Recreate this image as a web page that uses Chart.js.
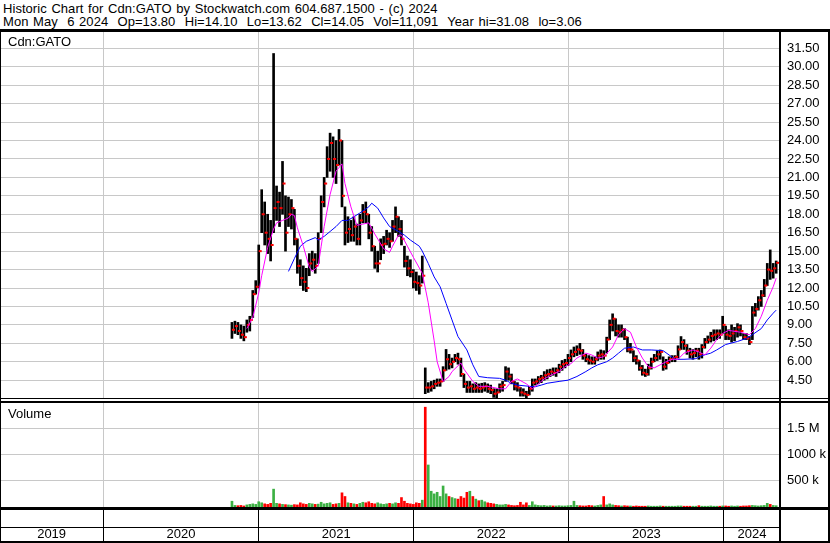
<!DOCTYPE html>
<html>
<head>
<meta charset="utf-8">
<script src="https://cdn.jsdelivr.net/npm/chart.js@4.4.0/dist/chart.umd.min.js"></script>
<style>
  body { margin: 0; background: #fff; }
  #wrap { position: relative; width: 830px; height: 543px; overflow: hidden; background: #fff;
          font-family: "Liberation Sans", Arial, sans-serif; color: #000; }
  .txt { position: absolute; font-size: 13px; line-height: 14px; white-space: pre; }
  .hdr { word-spacing: 1px; letter-spacing: 0.05px; }
  .ln { position: absolute; background: #000; }
  canvas { position: absolute; left: 0; }
</style>
</head>
<body>
<div id="wrap">
  <div class="txt hdr" style="left:3px;top:2px">Historic Chart for Cdn:GATO by Stockwatch.com 604.687.1500 - (c) 2024</div>
  <div class="txt hdr" style="left:3px;top:15px">Mon May  6 2024  Op=13.80  Hi=14.10  Lo=13.62  Cl=14.05  Vol=11,091  Year hi=31.08  lo=3.06</div>
  <canvas id="price" width="830" height="366" style="top:32px"></canvas>
  <canvas id="volume" width="830" height="140" style="top:403px"></canvas>
  <div class="txt" style="left:8px;top:35px">Cdn:GATO</div>
  <div class="txt" style="left:8px;top:407px">Volume</div>
  <div class="ln" style="left:0;top:29px;width:830px;height:3px"></div>
  <div class="ln" style="left:0;top:398px;width:830px;height:1px"></div>
  <div class="ln" style="left:0;top:401px;width:830px;height:2px"></div>
  <div class="ln" style="left:0;top:507px;width:830px;height:3px"></div>
  <div class="ln" style="left:0;top:527px;width:781px;height:1px"></div>
  <div class="ln" style="left:0;top:541px;width:830px;height:2px"></div>
  <div class="ln" style="left:0;top:29px;width:1px;height:514px"></div>
  <div class="ln" style="left:779px;top:32px;width:2px;height:511px"></div>
  <div class="ln" style="left:828px;top:29px;width:2px;height:514px"></div>
</div>
<script>
// weekly bars, first week ending 2020-10-30
const weekStart = Date.UTC(2020, 9, 30);
const DAY = 86400000;

const highs = [
  9.2, 9.3, 9.2, 9.0, 8.9, 9.4, 9.7, 11.8, 12.6, 15.5,
  20.0, 19.0, 18.0, 17.5, 31.08, 20.3, 19.8, 22.3, 19.5, 19.4,
  19.2, 18.4, 16.0, 14.3, 13.8, 13.6, 14.8, 15.0, 14.8, 16.5,
  19.5, 21.0, 23.5, 24.6, 24.3, 24.0, 24.9, 24.0, 18.6, 17.8,
  17.5, 17.8, 17.2, 18.0, 18.8, 19.0, 18.0, 17.0, 15.4, 15.0,
  16.0, 16.2, 16.7, 16.5, 17.5, 18.6, 17.8, 17.5, 15.4, 14.6,
  14.3, 13.5, 13.3, 13.0, 14.6, 5.5, 4.3, 4.4, 4.5, 4.6,
  4.6, 5.6, 7.0, 6.6, 6.3, 6.6, 6.7, 6.3, 5.0, 4.4,
  4.4, 4.2, 4.3, 4.2, 4.25, 4.3, 4.2, 4.1, 3.8, 3.8,
  4.2, 4.4, 5.6, 5.5, 5.0, 4.4, 4.3, 3.9, 3.8, 3.6,
  4.0, 4.6, 4.6, 4.8, 4.9, 5.2, 5.35, 5.4, 5.5, 5.5,
  5.8, 6.1, 6.2, 6.6, 6.96, 7.2, 7.3, 7.5, 7.0, 6.6,
  6.5, 6.4, 6.4, 6.8, 6.96, 6.9, 8.0, 9.4, 9.9, 9.5,
  9.0, 9.0, 8.7, 8.0, 7.5, 6.9, 6.5, 6.1, 5.7, 5.4,
  5.8, 6.3, 6.6, 6.9, 6.96, 6.4, 6.2, 6.4, 6.5, 6.5,
  7.3, 8.05, 7.8, 7.4, 7.1, 7.0, 7.1, 7.1, 7.4, 7.9,
  8.1, 8.4, 8.6, 8.6, 8.6, 9.7, 8.9, 8.6, 9.0, 8.8,
  9.1, 9.0, 8.3, 8.3, 8.05, 10.5, 10.75, 11.3, 11.8, 12.7,
  14.0, 15.1, 14.0, 14.2
];
const lows = [
  7.9, 8.3, 8.2, 7.9, 7.7, 8.4, 8.5, 9.6, 11.5, 12.0,
  16.5, 15.5, 14.8, 14.2, 16.5, 17.5, 17.0, 18.0, 15.0, 17.0,
  16.8, 15.5, 13.2, 12.2, 11.8, 11.7, 13.0, 13.5, 13.2, 14.0,
  16.5, 18.6, 21.0, 21.5, 21.0, 20.5, 22.0, 18.6, 15.5, 15.7,
  15.8, 15.8, 15.5, 15.5, 17.3, 17.3, 16.0, 15.0, 13.6, 13.3,
  14.3, 14.8, 15.5, 15.3, 15.8, 16.5, 16.2, 15.5, 13.7, 13.0,
  12.9, 12.0, 11.8, 11.5, 12.4, 3.4, 3.5, 3.6, 3.8, 4.0,
  4.0, 4.4, 5.3, 5.4, 5.5, 6.0, 5.8, 4.8, 3.9, 3.5,
  3.5, 3.5, 3.5, 3.5, 3.5, 3.6, 3.5, 3.4, 3.1, 3.0,
  3.5, 3.6, 4.4, 4.5, 4.2, 3.7, 3.6, 3.2, 3.2, 3.06,
  3.3, 3.6, 4.1, 4.2, 4.3, 4.5, 4.6, 4.8, 4.9, 4.8,
  5.1, 5.3, 5.5, 5.7, 6.0, 6.4, 6.5, 6.6, 6.2, 6.0,
  5.8, 5.8, 5.8, 6.1, 6.2, 6.2, 6.7, 7.8, 8.5, 8.1,
  8.0, 8.0, 7.8, 6.8, 6.7, 6.0, 5.8, 5.3, 4.9, 4.8,
  4.9, 5.4, 6.0, 6.1, 6.2, 5.3, 5.4, 5.9, 6.0, 6.0,
  6.3, 7.0, 7.0, 6.6, 6.3, 6.2, 6.4, 6.2, 6.3, 7.1,
  7.5, 7.6, 7.7, 7.8, 7.9, 8.3, 7.8, 7.8, 7.6, 7.7,
  8.0, 8.1, 7.8, 7.8, 7.4, 7.8, 9.7, 10.2, 10.5, 11.3,
  12.2, 12.7, 12.8, 13.2
];
const closes = [
  8.6, 8.9, 8.5, 8.2, 8.0, 9.0, 9.4, 11.5, 12.1, 15.0,
  18.0, 16.5, 16.0, 15.5, 18.5, 19.0, 18.5, 20.5, 16.5, 18.0,
  18.5, 16.0, 13.8, 12.8, 12.5, 12.0, 14.0, 14.3, 13.8, 16.0,
  19.0, 20.5, 22.5, 23.8, 22.5, 22.0, 24.0, 19.5, 16.5, 16.8,
  16.3, 17.0, 16.0, 17.5, 18.2, 18.0, 16.5, 15.4, 14.0, 14.0,
  15.5, 15.6, 16.0, 15.8, 17.0, 17.8, 16.8, 16.0, 14.2, 13.6,
  13.3, 12.5, 12.4, 12.2, 13.0, 3.9, 3.9, 4.0, 4.2, 4.3,
  4.4, 5.3, 6.2, 5.8, 6.0, 6.3, 6.2, 5.0, 4.2, 3.9,
  4.0, 3.8, 3.9, 3.8, 3.9, 4.0, 3.8, 3.7, 3.4, 3.5,
  4.0, 4.1, 5.2, 4.8, 4.4, 4.0, 3.9, 3.5, 3.4, 3.3,
  3.8, 4.3, 4.4, 4.6, 4.7, 4.9, 5.0, 5.2, 5.1, 5.3,
  5.6, 5.8, 5.9, 6.3, 6.6, 6.8, 7.0, 6.9, 6.5, 6.2,
  6.1, 6.0, 6.2, 6.5, 6.6, 6.5, 7.8, 9.0, 9.5, 8.5,
  8.4, 8.6, 8.0, 7.0, 7.0, 6.3, 6.1, 5.5, 5.1, 5.0,
  5.5, 6.0, 6.3, 6.6, 6.8, 5.6, 5.9, 6.2, 6.3, 6.4,
  7.0, 7.6, 7.3, 6.9, 6.6, 6.7, 6.9, 6.6, 7.2, 7.6,
  7.8, 8.1, 8.2, 8.3, 8.2, 9.0, 8.2, 8.1, 8.3, 8.5,
  8.8, 8.5, 8.0, 7.9, 7.6, 10.0, 10.3, 11.0, 11.4, 12.2,
  13.5, 13.4, 13.6, 14.05
];
// thousands of shares
const volumes = [
  110, 30, 25, 30, 20, 40, 50, 60, 50, 100,
  80, 60, 50, 70, 340, 70, 60, 50, 45, 40,
  35, 45, 40, 80, 60, 50, 70, 60, 50, 55,
  90, 60, 70, 80, 50, 60, 70, 270, 200, 80,
  70, 60, 50, 70, 90, 80, 100, 70, 60, 80,
  60, 50, 60, 70, 60, 80, 70, 180, 110, 70,
  60, 50, 80, 70, 130, 1900, 800, 300, 250, 280,
  200, 400, 250, 200, 180, 160, 150, 200, 170, 280,
  300, 200, 150, 120, 130, 100, 80, 70, 60, 50,
  40, 40, 50, 40, 30, 25, 30, 90, 40, 80,
  30, 100, 40, 30, 25, 30, 20, 25, 20, 20,
  25, 20, 20, 25, 30, 110, 30, 25, 20, 20,
  30, 25, 20, 30, 40, 200, 40, 60, 40, 30,
  25, 20, 25, 20, 20, 15, 20, 15, 15, 15,
  20, 15, 15, 15, 20, 15, 15, 15, 15, 15,
  20, 20, 15, 15, 15, 15, 15, 25, 15, 15,
  15, 20, 15, 15, 15, 20, 20, 15, 20, 15,
  20, 15, 20, 20, 25, 30, 25, 20, 25, 30,
  70, 50, 30, 25
];

// moving averages (week number, value)
const maShortWeek = [5, 7, 9, 10, 12, 14, 15, 17, 19, 20, 21, 22, 24, 26, 27, 29, 30, 31, 33, 35,
  37, 38, 40, 42, 44, 46, 48, 51, 53, 54, 56, 57, 59, 61, 64, 66, 68, 69, 71, 73,
  74, 77, 78, 81, 83, 86, 90, 92, 94, 96, 99, 101, 103, 105, 108, 110, 112, 114, 116, 119,
  121, 123, 125, 128, 130, 132, 134, 136, 138, 140, 142, 144, 146, 148, 150, 152, 155, 157, 159, 161,
  163, 165, 167, 171, 174, 176, 178, 180, 182, 183];
const maShortValue = [8.7, 9.6, 11.6, 13.0, 15.3, 16.8, 17.3, 17.5, 17.7, 18.0, 17.9, 16.9, 15.4, 13.7, 13.35, 13.8, 15.4, 17.0, 19.6, 21.5,
  22.1, 20.5, 18.6, 17.1, 17.2, 17.3, 16.4, 15.2, 14.9, 15.4, 16.3, 16.3, 15.4, 14.5, 13.2, 10.8, 7.7, 6.0, 4.4, 4.8,
  5.2, 5.9, 5.4, 4.4, 4.0, 4.0, 3.8, 3.8, 4.4, 4.6, 4.2, 3.8, 4.2, 4.6, 5.0, 5.2, 5.6, 5.85, 6.3, 6.7,
  6.55, 6.3, 6.4, 7.2, 8.2, 8.7, 8.4, 7.2, 6.3, 5.6, 5.5, 5.75, 6.0, 6.2, 6.2, 6.7, 6.96, 6.8, 6.55, 7.1,
  7.8, 8.3, 8.55, 8.4, 8.2, 8.7, 9.7, 11.0, 12.1, 12.8];
const maLongWeek = [19, 21, 23, 25, 28, 29, 31, 33, 35, 37, 39, 43, 46, 47, 49, 51, 53, 56, 58, 60,
  63, 64, 66, 68, 70, 72, 74, 76, 79, 81, 83, 86, 90, 92, 94, 96, 100, 102, 104, 106,
  110, 113, 116, 119, 121, 123, 126, 128, 130, 132, 135, 138, 141, 145, 147, 149, 152, 156, 158, 161,
  163, 166, 170, 173, 175, 178, 180, 182, 183];
const maLongValue = [13.35, 14.4, 15.4, 15.8, 16.1, 15.9, 16.2, 16.6, 17.0, 17.5, 17.5, 18.1, 18.6, 18.9, 18.5, 17.7, 17.0, 16.6, 16.3, 15.9,
  15.4, 15.0, 14.0, 12.9, 12.1, 10.75, 9.4, 8.05, 6.96, 5.75, 4.8, 4.7, 4.65, 4.5, 4.25, 4.1, 4.0, 3.97, 4.1, 4.25,
  4.4, 4.5, 4.8, 5.2, 5.5, 5.75, 6.0, 6.3, 6.7, 7.1, 7.2, 6.96, 6.96, 6.9, 6.55, 6.2, 6.2, 6.25, 6.5, 6.7,
  6.96, 7.4, 7.65, 7.9, 8.2, 8.7, 9.4, 9.95, 10.2];

const yearStarts = [2020, 2021, 2022, 2023, 2024];
const yearLabels = ['2019', '2020', '2021', '2022', '2023', '2024'];
const priceTicks = [4.5, 6, 7.5, 9, 10.5, 12, 13.5, 15, 16.5, 18, 19.5, 21, 22.5, 24, 25.5, 27, 28.5, 30, 31.5];
const volumeTicks = [500, 1000, 1500];

const xMin = Date.UTC(2019, 4, 3);
const xMax = Date.UTC(2024, 4, 12);
const weekTime = i => weekStart + i * 7 * DAY;
const boundaries = yearStarts.map(y => Date.UTC(y, 0, 1));
const edges = [xMin].concat(boundaries, [xMax]);
const labelPos = yearLabels.map((l, k) => (edges[k] + edges[k + 1]) / 2);

const FONT = { family: '"Liberation Sans", Arial, sans-serif', size: 13 };
const GRID = '#c8c8c8';
const RED = '#ff0000';
const GREEN = '#3cb043';

// keep the plot area at fixed size: no label padding
function fixY(scale) {
  scale.width = 50;
  scale.paddingTop = 0; scale.paddingBottom = 0;
}

function xAxis(withLabels) {
  const isBound = c => c.tick && boundaries.includes(c.tick.value);
  return {
    type: 'linear', min: xMin, max: xMax, offset: false,
    border: { display: false },
    afterBuildTicks: s => {
      const t = boundaries.map(v => ({ value: v }));
      if (withLabels) labelPos.forEach(v => t.push({ value: v }));
      s.ticks = t;
    },
    grid: {
      offset: false,
      color: c => isBound(c) ? GRID : 'rgba(0,0,0,0)',
      tickColor: c => isBound(c) ? '#000' : 'rgba(0,0,0,0)',
      drawTicks: withLabels, tickLength: 34
    },
    ticks: {
      display: withLabels, autoSkip: false, maxRotation: 0, padding: -14,
      color: '#000', font: FONT,
      callback: v => { const k = labelPos.indexOf(v); return k >= 0 ? yearLabels[k] : ''; }
    },
    afterFit: s => {
      s.height = withLabels ? 36 : 0;
      s.paddingLeft = 0; s.paddingRight = 0;
    }
  };
}

const bars = highs.map((h, i) => ({ x: weekTime(i), y: [lows[i], h] }));
const closePts = closes.map((c, i) => ({ x: weekTime(i), y: c }));
const maShort = maShortWeek.map((w, k) => ({ x: weekTime(w), y: maShortValue[k] }));
const maLong = maLongWeek.map((w, k) => ({ x: weekTime(w), y: maLongValue[k] }));

new Chart(document.getElementById('price'), {
  type: 'bar',
  data: {
    datasets: [
      { type: 'line', data: maShort, borderColor: '#ff00ff', borderWidth: 1, pointRadius: 0, tension: 0, order: 1 },
      { type: 'line', data: maLong, borderColor: '#0000ff', borderWidth: 1, pointRadius: 0, tension: 0, order: 1 },
      // close tick to the right of each bar
      { type: 'line', data: closePts, showLine: false, pointStyle: 'dash', pointRadius: 3,
        pointBorderColor: RED, pointBorderWidth: 2, order: 2 },
      { type: 'bar', data: bars, backgroundColor: '#000', barThickness: 2, order: 3 }
    ]
  },
  options: {
    responsive: false, animation: false,
    layout: { padding: 0, autoPadding: false },
    plugins: { legend: { display: false }, tooltip: { enabled: false } },
    scales: {
      x: xAxis(false),
      y: {
        position: 'right', min: 3.05, max: 32.83,
        border: { display: false },
        afterBuildTicks: s => { s.ticks = priceTicks.map(v => ({ value: v })); },
        grid: { color: GRID, drawTicks: false },
        ticks: { color: '#000', font: FONT, padding: 7, callback: v => v.toFixed(2) },
        afterFit: fixY
      }
    }
  }
});

new Chart(document.getElementById('volume'), {
  type: 'bar',
  data: {
    datasets: [{
      data: volumes.map((v, i) => ({ x: weekTime(i), y: v })),
      backgroundColor: volumes.map((v, i) => (i > 0 && closes[i] < closes[i - 1]) ? RED : GREEN),
      barThickness: 2
    }]
  },
  options: {
    responsive: false, animation: false,
    layout: { padding: 0, autoPadding: false },
    plugins: { legend: { display: false }, tooltip: { enabled: false } },
    scales: {
      x: xAxis(true),
      y: {
        position: 'right', min: 0, max: 1980,
        border: { display: false },
        afterBuildTicks: s => { s.ticks = volumeTicks.map(v => ({ value: v })); },
        grid: { color: GRID, drawTicks: false },
        ticks: { color: '#000', font: FONT, padding: 7,
          callback: v => v >= 1500 ? (v / 1000) + ' M' : v + ' k' },
        afterFit: fixY
      }
    }
  }
});
</script>
</body>
</html>
